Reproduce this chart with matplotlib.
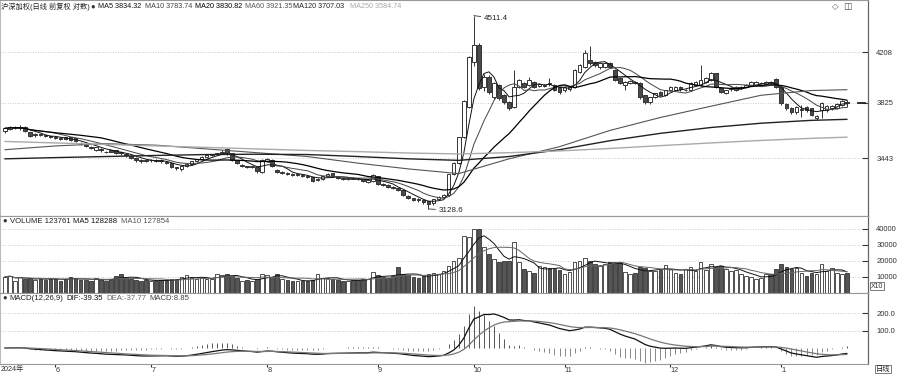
import numpy as np
import pandas as pd
import matplotlib
matplotlib.use("Agg")
import matplotlib.pyplot as plt
from matplotlib.ticker import FixedLocator, NullLocator, FuncFormatter

plt.rcParams['font.family'] = ['Liberation Sans', 'DejaVu Sans', 'Noto Sans CJK SC']

# ---------------- data ----------------
opens = [
    3623, 3637, 3644, 3644, 3651, 3616, 3596, 3603, 3596, 3589,
    3582, 3576, 3582, 3582, 3576, 3542, 3529, 3515, 3495, 3502,
    3488, 3495, 3495, 3488, 3469, 3456, 3443, 3430, 3430,
    3430, 3430, 3430, 3417, 3411, 3385, 3372, 3391, 3404, 3424,
    3437, 3450, 3463, 3469, 3475, 3502, 3475, 3430, 3391, 3391,
    3385, 3385, 3353,
    3424, 3430, 3366, 3347, 3347, 3341, 3334, 3334, 3328, 3322,
    3303, 3309, 3328, 3347, 3322, 3316, 3309, 3316, 3316, 3309,
    3291, 3297,
    3328, 3278, 3272, 3260, 3254, 3241, 3204, 3192, 3186, 3180,
    3174, 3162, 3186, 3198, 3210, 3341, 3411, 3582, 3792,
    4129, 4265, 3938, 4014, 3864, 3953, 3879, 3828, 3792, 3938,
    3968, 3953, 3976, 3946, 3946, 3968, 3953, 3938,
    3916, 3923, 3938, 4053, 4091, 4145, 4129, 4091, 4091, 4122,
    4068, 4006, 3953, 3968, 3976, 3968, 3879, 3828, 3864, 3901, 3879,
    3916, 3916, 3938, 3916, 3916, 3953, 3953, 3976, 3991, 4045,
    3931, 3894, 3923, 3916, 3931, 3938, 3953, 3953, 3968, 3961, 3976, 3999,
    3938, 3814, 3785, 3756, 3770, 3792, 3785, 3714, 3770, 3770, 3785, 3785, 3806, 3828,
]
closes = [
    3644, 3651, 3651, 3651, 3623, 3589, 3603, 3596, 3589, 3582,
    3576, 3574, 3569, 3562, 3555, 3535, 3522, 3513, 3515, 3495,
    3482, 3488, 3475, 3475, 3463, 3443, 3430, 3424, 3428,
    3432, 3424, 3424, 3411, 3385, 3379, 3391, 3404, 3424, 3437,
    3450, 3463, 3469, 3475, 3488, 3469, 3430, 3411, 3398, 3385,
    3391, 3360, 3430,
    3437, 3391, 3353, 3353, 3345, 3334, 3341, 3328, 3322, 3297,
    3309, 3328, 3341, 3328, 3316, 3309, 3316, 3314, 3309, 3297,
    3303, 3334,
    3278, 3272, 3260, 3254, 3241, 3210, 3192, 3180, 3180, 3168,
    3156, 3186, 3198, 3210, 3341, 3411, 3582, 3836, 4169,
    4265, 3931, 4014, 3901, 3968, 3857, 3828, 3785, 3938, 3991,
    3938, 3991, 3938, 3961, 3953, 3966, 3916, 3901,
    3938, 3938, 4068, 4106, 4201, 4122, 4106, 4122, 4122, 4091,
    3991, 3968, 3976, 3984, 3968, 3864, 3828, 3864, 3894, 3879, 3916,
    3938, 3938, 3923, 3918, 3968, 3976, 3991, 4006, 4045, 3938,
    3901, 3916, 3931, 3938, 3938, 3953, 3976, 3976, 3970, 3976, 3968, 3938,
    3821, 3785, 3756, 3792, 3783, 3770, 3735, 3728, 3821, 3800, 3805, 3815, 3840, 3825,
]
highs = [
    3655, 3660, 3662, 3665, 3660, 3620, 3610, 3608, 3602, 3595,
    3590, 3584, 3588, 3586, 3580, 3550, 3536, 3522, 3520, 3508,
    3494, 3500, 3498, 3493, 3475, 3462, 3450, 3436, 3438,
    3440, 3436, 3438, 3424, 3415, 3390, 3395, 3408, 3428, 3442,
    3456, 3468, 3474, 3480, 3495, 3508, 3478, 3434, 3404, 3396,
    3396, 3390, 3436,
    3445, 3436, 3372, 3360, 3355, 3348, 3346, 3340, 3334, 3326,
    3315, 3332, 3346, 3352, 3328, 3322, 3320, 3322, 3320, 3314,
    3308, 3340,
    3332, 3284, 3278, 3266, 3258, 3245, 3210, 3197, 3192, 3186,
    3178, 3190, 3204, 3218, 3345, 3420, 3586, 3845, 4180,
    4511.4, 4280, 4040, 4030, 3975, 3965, 3890, 3840, 4068, 4000,
    3978, 4014, 3985, 3970, 3962, 4006, 3960, 3945,
    3945, 3946, 4075, 4115, 4225, 4257, 4140, 4130, 4132, 4130,
    4075, 4012, 3985, 3990, 3985, 3975, 3885, 3870, 3900, 3908, 3922,
    3945, 3946, 3945, 3925, 3975, 3985, 4106, 4014, 4055, 4050,
    3940, 3922, 3938, 3945, 3945, 3960, 3984, 3985, 3978, 3985, 3984, 4006,
    3945, 3822, 3792, 3800, 3806, 3800, 3790, 3735, 3830, 3808, 3812, 3822, 3846, 3845,
]
lows = [
    3615, 3630, 3638, 3636, 3618, 3582, 3588, 3590, 3582, 3575,
    3570, 3566, 3562, 3556, 3548, 3528, 3515, 3506, 3490, 3488,
    3475, 3482, 3470, 3468, 3455, 3436, 3422, 3416, 3420,
    3422, 3418, 3416, 3404, 3378, 3370, 3360, 3385, 3400, 3420,
    3432, 3445, 3458, 3462, 3470, 3465, 3425, 3405, 3385, 3378,
    3378, 3352, 3350,
    3418, 3386, 3346, 3340, 3338, 3328, 3328, 3322, 3316, 3290,
    3296, 3304, 3322, 3322, 3310, 3302, 3304, 3308, 3302, 3290,
    3285, 3292,
    3272, 3265, 3254, 3247, 3235, 3204, 3186, 3174, 3172, 3160,
    3128.6, 3150, 3180, 3192, 3205, 3335, 3405, 3578, 3790,
    4100, 3920, 3910, 3890, 3850, 3845, 3818, 3775, 3785, 3930,
    3930, 3945, 3930, 3938, 3940, 3950, 3908, 3890,
    3905, 3915, 3930, 4045, 4085, 4110, 4095, 4080, 4083, 4082,
    3985, 3960, 3916, 3960, 3960, 3855, 3815, 3815, 3858, 3872, 3872,
    3910, 3910, 3915, 3908, 3910, 3945, 3945, 3970, 3985, 3930,
    3893, 3886, 3915, 3910, 3924, 3930, 3946, 3946, 3960, 3955, 3960, 3930,
    3810, 3775, 3748, 3745, 3721, 3760, 3728, 3705, 3714, 3762, 3775, 3778, 3800, 3792,
]
volumes = [
    102000, 108000, 75000, 97000, 86000, 92000, 84000, 90000, 80000, 95000,
    88000, 78000, 85000, 98000, 96000, 82000, 80000, 76000, 92000, 85000,
    78000, 86000, 104000, 121000, 95000, 88000, 82000, 75000, 80000, 78000,
    72000, 84000, 76000, 90000, 85000, 100000, 115000, 92000, 88000, 96000,
    90000, 86000, 121000, 110000, 118000, 105000, 95000, 78000, 82000, 75000,
    88000, 121000, 110000, 100000, 121000, 85000, 80000, 76000, 72000, 75000,
    78000, 82000, 121000, 95000, 92000, 85000, 80000, 78000, 75000, 80000,
    84000, 88000, 90000, 132000,
    110000, 100000, 95000, 105000, 160000, 120000, 110000, 100000, 95000, 105000,
    118000, 128000, 118000, 140000, 171000, 203000, 216000, 353000, 347000,
    401000, 397000, 289000, 246000, 214000, 192000, 203000, 203000, 321000, 192000,
    152000, 140000, 128000, 171000, 160000, 155000, 152000, 145000,
    118000, 130000, 192000, 203000, 216000, 203000, 182000, 170000, 180000, 192000,
    195000, 192000, 134000, 118000, 125000, 160000, 155000, 139000, 139000, 145000, 177000,
    150000, 128000, 118000, 150000, 160000, 140000, 192000, 145000, 182000, 160000,
    171000, 150000, 140000, 145000, 118000, 106000, 100000, 87000, 95000, 118000, 118000, 150000,
    182000, 160000, 150000, 155000, 128000, 106000, 128000, 120000, 182000, 139000, 155000, 128000, 118000, 123761,
]

long_ma_idx = [0, 10, 20, 30, 40, 50, 60, 70, 80, 90, 100, 110, 120, 130, 140, 150, 160, 167]
ma60_vals = [3500, 3525, 3540, 3530, 3505, 3480, 3455, 3412, 3375, 3345, 3440, 3520, 3630, 3720, 3800, 3880, 3915, 3921]
ma120_vals = [3440, 3448, 3455, 3462, 3468, 3470, 3468, 3455, 3440, 3430, 3455, 3500, 3560, 3610, 3650, 3680, 3700, 3707]
ma250_vals = [3555, 3545, 3535, 3525, 3515, 3505, 3495, 3487, 3478, 3472, 3480, 3492, 3508, 3527, 3545, 3562, 3576, 3584]

month_start_idx = [10, 29, 52, 74, 93, 111, 132, 154]
month_labels = ['6', '7', '8', '9', '10', '11', '12', '1']
price_ticks = [3443, 3825, 4208]
vol_ticks = [100000, 200000, 300000, 400000]
vol_tick_labels = ['10000', '20000', '30000', '40000']
macd_ticks = [100, 200]

title_text = '沪深加权(日线 前复权 对数)'
ma_header = [('MA5 3834.32', '#111111', 98), ('MA10 3783.74', '#444444', 145),
             ('MA20 3830.82', '#000000', 195), ('MA60 3921.35', '#555555', 245),
             ('MA120 3707.03', '#222222', 293), ('MA250 3584.74', '#aaaaaa', 350)]
vol_header = [('VOLUME 123761', '#222222'), ('MA5 128288', '#111111'), ('MA10 127854', '#555555')]
macd_header = [('MACD(12,26,9)', '#222222'), ('DIF:-39.35', '#111111'),
               ('DEA:-37.77', '#666666'), ('MACD:8.85', '#444444')]

# ---------------- figure ----------------
o = np.array(opens, float)
c = np.array(closes, float)
h = np.array(highs, float)
l = np.array(lows, float)
v = np.array(volumes, float)
n = len(c)
idx = np.arange(n)
up = c >= o

W, H = 900, 375
fig = plt.figure(figsize=(9, 3.75), dpi=100)
fig.patch.set_facecolor('white')


def rect(x0, y0, x1, y1):
    return [x0 / W, 1 - y1 / H, (x1 - x0) / W, (y1 - y0) / H]


ax = fig.add_axes(rect(0, 0, 868, 216))
axv = fig.add_axes(rect(0, 216, 868, 293), sharex=ax)
axm = fig.add_axes(rect(0, 293, 868, 364), sharex=ax)

EDGE = '#333333'
DOWN = '#4a4a4a'
grid_kw = dict(axis='y', linestyle=(0, (1, 2)), color='#bbbbbb', linewidth=0.6)

for a in (ax, axv, axm):
    a.set_facecolor('white')
    for s in ('top', 'bottom'):
        a.spines[s].set_color('#999999')
        a.spines[s].set_linewidth(0.8)
    a.spines['left'].set_color('#bbbbbb')
    a.spines['right'].set_color('#666666')
    a.spines['right'].set_linewidth(0.9)
    a.yaxis.tick_right()
    a.tick_params(axis='y', direction='in', length=4, pad=6, labelsize=5.5, colors='#333333')
    a.grid(**grid_kw)
    a.set_axisbelow(True)


def header_row(axis, y_px, items, x_px, size):
    """Write a row of header texts one after another, left to right."""
    prev = fig.text(x_px / W, 1 - y_px / H, '●', fontsize=5.5, va='center', ha='left', color='#333333')
    for txt, col in items:
        prev = axis.annotate(txt, xy=(1, 0.5), xycoords=prev, xytext=(2.2, 0),
                             textcoords='offset points', va='center', ha='left',
                             fontsize=size, color=col, annotation_clip=False)
    return prev


# ---- main price panel ----
ax.set_yscale('log')
ax.vlines(idx, l, h, color=EDGE, linewidth=0.7, zorder=2)
bb = np.minimum(o, c)
bh = np.abs(c - o)
ax.bar(idx[up], bh[up], bottom=bb[up], width=0.72, facecolor='white', edgecolor=EDGE, linewidth=0.7, zorder=3)
ax.bar(idx[~up], bh[~up], bottom=bb[~up], width=0.72, facecolor=DOWN, edgecolor=EDGE, linewidth=0.7, zorder=3)

cs = pd.Series(c)
ax.plot(idx, cs.rolling(5, min_periods=1).mean(), color='#111111', lw=0.7, zorder=4)
ax.plot(idx, cs.rolling(10, min_periods=1).mean(), color='#444444', lw=0.7, zorder=4)
ax.plot(idx, cs.rolling(20, min_periods=1).mean(), color='#000000', lw=0.9, zorder=4)
ax.plot(long_ma_idx, ma60_vals, color='#555555', lw=0.8, zorder=4)
ax.plot(long_ma_idx, ma120_vals, color='#222222', lw=1.0, zorder=4)
ax.plot(long_ma_idx, ma250_vals, color='#aaaaaa', lw=1.0, zorder=4)

ax.set_ylim(3087, 4647)
ax.set_xlim(-1, 171.2)
ax.yaxis.set_major_locator(FixedLocator(price_ticks))
ax.yaxis.set_minor_locator(NullLocator())
ax.yaxis.set_major_formatter(FuncFormatter(lambda val, pos: f'{val:.0f}'))
ax.tick_params(axis='x', bottom=False, labelbottom=False, top=False)

hi_i = int(np.argmax(h))
lo_i = int(np.argmin(l))
ax.annotate(f'{h[hi_i]:.1f}', xy=(hi_i, h[hi_i]), xytext=(7, -2), textcoords='offset points',
            fontsize=5.8, va='center', ha='left', color='#222222',
            arrowprops=dict(arrowstyle='-', color='#333333', lw=0.6, shrinkA=0, shrinkB=0))
ax.annotate(f'{l[lo_i]:.1f}', xy=(lo_i, l[lo_i]), xytext=(7, -1), textcoords='offset points',
            fontsize=5.8, va='center', ha='left', color='#222222',
            arrowprops=dict(arrowstyle='-', color='#333333', lw=0.6, shrinkA=0, shrinkB=0))
# last price marker
ax.plot([n + 1.3, n + 2.6], [c[-1], c[-1]], color='#222222', lw=1.3, zorder=5)

# header texts
fig.text(1 / W, 1 - 7 / H, title_text, fontsize=5.2, va='center', ha='left', color='#222222')
fig.text(90 / W, 1 - 7 / H, '●', fontsize=5.5, va='center', ha='left', color='#333333')
for txt, col, xp in ma_header:
    fig.text(xp / W, 1 - 7 / H, txt, fontsize=5.2, va='center', ha='left', color=col)
fig.text(832 / W, 1 - 7 / H, '◇', fontsize=6, va='center', ha='left', color='#555555',
         family='DejaVu Sans')
fig.text(843 / W, 1 - 7 / H, '◫', fontsize=6.5, va='center', ha='left', color='#555555',
         family='DejaVu Sans')

# ---- volume panel ----
axv.bar(idx[up], v[up], width=0.72, facecolor='white', edgecolor=EDGE, linewidth=0.6, zorder=3)
axv.bar(idx[~up], v[~up], width=0.72, facecolor='#555555', edgecolor=EDGE, linewidth=0.6, zorder=3)
vs = pd.Series(v)
axv.plot(idx, vs.rolling(5, min_periods=1).mean(), color='#111111', lw=0.7, zorder=4)
axv.plot(idx, vs.rolling(10, min_periods=1).mean(), color='#666666', lw=0.7, zorder=4)
axv.set_ylim(0, 481000)
axv.yaxis.set_major_locator(FixedLocator(vol_ticks))
axv.yaxis.set_major_formatter(FuncFormatter(
    lambda val, pos: vol_tick_labels[pos] if pos is not None and pos < len(vol_tick_labels) else ''))
axv.tick_params(axis='x', bottom=False, labelbottom=False)
header_row(axv, 221, vol_header, 2, 5.6)
fig.text(871 / W, 1 - 286 / H, 'X10', fontsize=5, va='center', ha='left', color='#333333',
         bbox=dict(facecolor='white', edgecolor='#666666', linewidth=0.6, pad=0.6))

# ---- MACD panel ----
ema12 = cs.ewm(span=12, adjust=False).mean()
ema26 = cs.ewm(span=26, adjust=False).mean()
dif = ema12 - ema26
dea = dif.ewm(span=9, adjust=False).mean()
hist = 2 * (dif - dea)
axm.vlines(idx, 0, hist, colors=np.where(hist >= 0, '#555555', '#888888'), linewidth=0.7, zorder=2)
axm.plot(idx, dif, color='#111111', lw=0.9, zorder=3)
axm.plot(idx, dea, color='#777777', lw=0.9, zorder=3)
axm.set_ylim(-92, 315)
axm.yaxis.set_major_locator(FixedLocator(macd_ticks))
axm.yaxis.set_major_formatter(FuncFormatter(lambda val, pos: f'{val:.1f}'))
header_row(axm, 298, macd_header, 2, 5.6)

axm.set_xticks(month_start_idx)
axm.set_xticklabels(month_labels)
axm.tick_params(axis='x', direction='out', length=2, pad=0.3, labelsize=5.2, colors='#333333')
for t in axm.get_xticklabels():
    t.set_ha('left')
fig.text(1 / W, 1 - 369 / H, '2024年', fontsize=5.2, va='center', ha='left', color='#333333')
fig.text(883 / W, 1 - 369 / H, '日线', fontsize=5.2, va='center', ha='center', color='#222222',
         bbox=dict(facecolor='white', edgecolor='#666666', linewidth=0.6, pad=0.4))

fig.savefig('out.png', dpi=100, facecolor='white')
